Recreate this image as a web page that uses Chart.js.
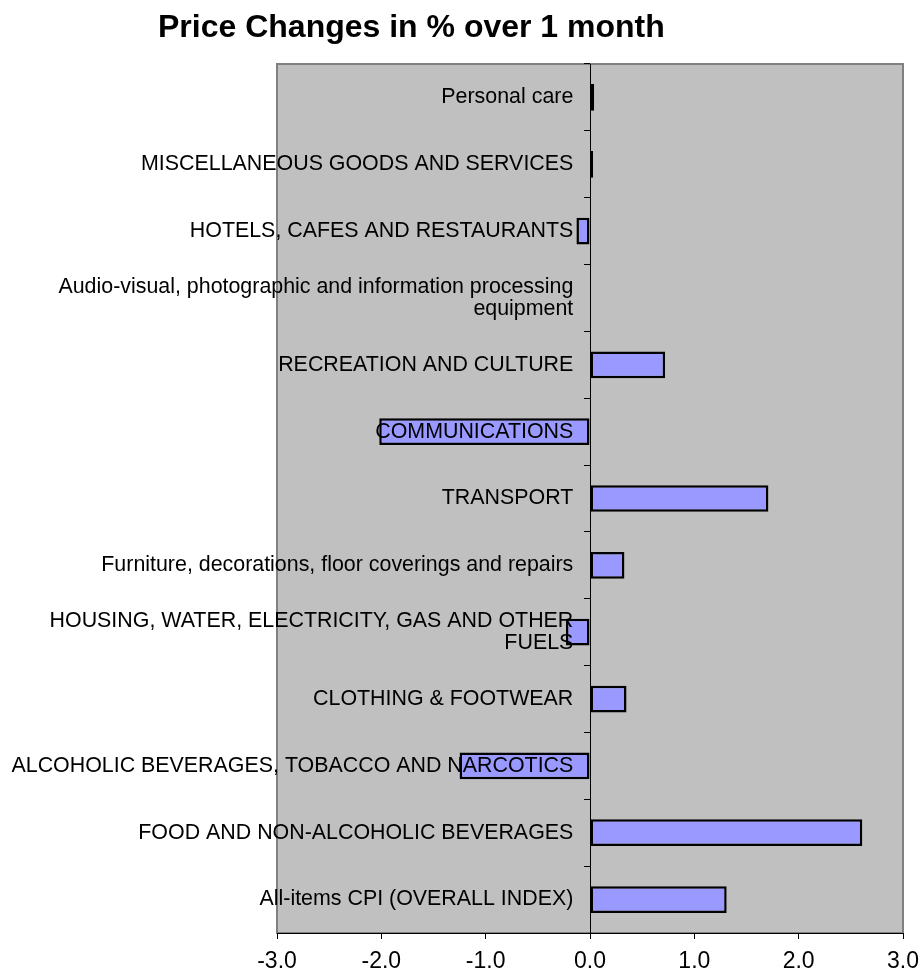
<!DOCTYPE html>
<html>
<head>
<meta charset="utf-8">
<script src="https://cdn.jsdelivr.net/npm/chart.js@4/dist/chart.umd.min.js"></script>
<style>
  html, body { margin: 0; padding: 0; background: #fff; }
  #wrap { width: 924px; height: 972px; position: relative; }
</style>
</head>
<body>
<div id="wrap"><canvas id="priceChart"></canvas></div>
<script>
// categories, bottom to top as in the sheet
const categories = [
    'All-items CPI (OVERALL INDEX)',
    'FOOD AND NON-ALCOHOLIC BEVERAGES',
    'ALCOHOLIC BEVERAGES, TOBACCO AND NARCOTICS',
    'CLOTHING & FOOTWEAR',
    ['HOUSING, WATER, ELECTRICITY, GAS AND OTHER', 'FUELS'],
    'Furniture, decorations, floor coverings and repairs',
    'TRANSPORT',
    'COMMUNICATIONS',
    'RECREATION AND CULTURE',
    ['Audio-visual, photographic and information processing', 'equipment'],
    'HOTELS, CAFES AND RESTAURANTS',
    'MISCELLANEOUS GOODS AND SERVICES',
    'Personal care',
];
const changes = [1.31, 2.61, -1.25, 0.35, -0.23, 0.33, 1.71, -2.02, 0.72, 0, -0.13, 0.03, 0.04];
const xTicks = [-3, -2, -1, 0, 1, 2, 3];

const chartTitle = 'Price Changes in % over 1 month';
const fontFamily = '"Liberation Sans", Arial, sans-serif';

// grey plot area with a darker frame, like the spreadsheet
const plotBackground = {
    id: 'plotBackground',
    beforeDraw: (chart) => {
        const {ctx, chartArea: a} = chart;
        ctx.save();
        ctx.fillStyle = '#C0C0C0';
        ctx.fillRect(a.left, a.top, a.right - a.left, a.bottom - a.top);
        ctx.strokeStyle = '#808080';
        ctx.lineWidth = 2;
        ctx.strokeRect(a.left, a.top, a.right - a.left, a.bottom - a.top);
        ctx.restore();
    }
};

const renderPriceChart = () => {
    var ctx = document.getElementById('priceChart').getContext('2d');
    var priceChart = new Chart(ctx, {
        type: 'bar',
        data: {
            labels: categories,
            datasets: [{
                label: 'Price change %',
                data: changes,
                xAxisID: 'x',
                yAxisID: 'y',
                backgroundColor: '#9999FF',
                borderColor: '#000000',
                borderWidth: 2.5,
                borderSkipped: false,
                barPercentage: 0.4,
                categoryPercentage: 1.0,
            }],
        },
        options: {
            indexAxis: 'y',
            responsive: true,
            maintainAspectRatio: false,
            animation: false,
            layout: {
                padding: {left: 158, right: 21, top: 0, bottom: 0},
            },
            plugins: {
                legend: {display: false},
                tooltip: {enabled: false},
                title: {
                    display: true,
                    text: chartTitle,
                    align: 'start',
                    color: '#000',
                    font: {family: fontFamily, size: 32, weight: 'bold', lineHeight: 1.2},
                    padding: {top: 9, bottom: 16.6},
                },
            },
            scales: {
                // category axis crossing at zero: line + tick marks only
                y: {
                    type: 'category',
                    reverse: true,
                    offset: true,
                    position: {x: 0},
                    grid: {
                        offset: true,
                        drawOnChartArea: false,
                        drawTicks: true,
                        tickLength: 6,
                        color: '#000',
                    },
                    border: {color: '#000', width: 1, z: 1},
                    ticks: {display: false},
                },
                // same categories, only the text, set a bit left of zero
                yLabels: {
                    type: 'category',
                    axis: 'y',
                    reverse: true,
                    offset: true,
                    position: {x: -0.16},
                    grid: {display: false},
                    border: {display: false},
                    ticks: {
                        z: 1,
                        color: '#000',
                        autoSkip: false,
                        font: {family: fontFamily, size: 21.4, lineHeight: 1.03},
                    },
                },
                // empty axis that only keeps room on the left of the plot
                yPad: {
                    type: 'linear',
                    axis: 'y',
                    position: 'left',
                    ticks: {display: false},
                    grid: {display: false},
                    border: {display: false},
                    afterFit: (scale) => { scale.width = 119; },
                },
                x: {
                    type: 'linear',
                    min: -3,
                    max: 3,
                    afterBuildTicks: (scale) => {
                        scale.ticks = xTicks.map((v) => ({value: v}));
                    },
                    afterFit: (scale) => { scale.height = 39; },
                    grid: {
                        drawOnChartArea: false,
                        drawTicks: true,
                        tickLength: 6,
                        color: '#000',
                    },
                    border: {color: '#000', width: 1},
                    ticks: {
                        padding: 3,
                        color: '#000',
                        font: {family: fontFamily, size: 23, lineHeight: 1.75},
                        callback: (v) => Number(v).toFixed(1),
                    },
                },
            },
        },
        plugins: [plotBackground],
    });
};

window.addEventListener('load', renderPriceChart);
</script>
</body>
</html>
